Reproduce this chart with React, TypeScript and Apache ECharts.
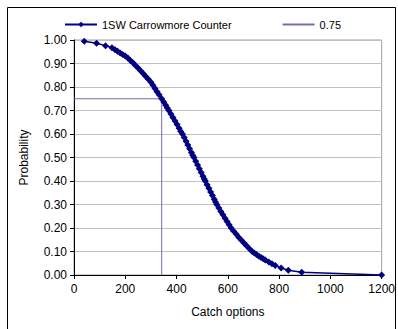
import React, { useEffect, useRef } from "react";
import * as echarts from "echarts";

const catchOptions = [
  40, 88, 123, 148, 160, 170, 180, 190, 200, 210, 220, 230, 240, 250, 260, 270, 280, 290, 300,
  308, 316, 324, 332, 342, 350, 358, 364, 370, 378, 386, 394, 402, 410, 416, 423,
  430, 437, 444, 451, 458, 463, 468, 475, 482, 489, 496, 503, 508, 512,
  519, 526, 533, 540, 547, 552, 557, 565, 573, 581, 589, 597, 605, 613,
  623, 633, 643, 653, 663, 673, 684, 695, 703, 712, 721, 730, 738, 746,
  760, 772, 785, 808, 836, 888, 1200,
];
const probability = [
  0.995, 0.986, 0.976, 0.967, 0.959, 0.952, 0.945, 0.938, 0.932, 0.923, 0.913, 0.903, 0.892, 0.881, 0.869, 0.857, 0.845, 0.833, 0.82,
  0.807, 0.794, 0.78, 0.767, 0.75, 0.736, 0.722, 0.711, 0.7, 0.685, 0.67, 0.655, 0.64, 0.625, 0.612, 0.6,
  0.585, 0.569, 0.553, 0.537, 0.521, 0.51, 0.5, 0.484, 0.468, 0.452, 0.436, 0.42, 0.409, 0.4,
  0.384, 0.369, 0.353, 0.338, 0.322, 0.311, 0.3, 0.285, 0.27, 0.256, 0.242, 0.228, 0.214, 0.2,
  0.186, 0.173, 0.16, 0.148, 0.136, 0.124, 0.112, 0.1, 0.094, 0.087, 0.08, 0.074, 0.069, 0.064,
  0.055, 0.048, 0.04, 0.03, 0.02, 0.012, 0.0,
];
const refX = [0, 342, 342];
const refY = [0.75, 0.75, 0];
const seriesNames = ["1SW Carrowmore Counter", "0.75"];

const FONT = "Liberation Sans, Arial, sans-serif";

export default function App() {
  const ref = useRef<HTMLDivElement>(null);
  useEffect(() => {
    if (!ref.current) return;
    const chart = echarts.init(ref.current, undefined, { renderer: "svg" });
    chart.setOption({
      animation: false,
      backgroundColor: "#ffffff",
      textStyle: { fontFamily: FONT },
      graphic: [
        {
          type: "rect",
          shape: { x: 7.5, y: 7.5, width: 388, height: 340 },
          style: { fill: "none", stroke: "#000000", lineWidth: 1 },
          silent: true,
        },
      ],
      legend: {
        top: 14,
        left: 59,
        itemWidth: 32,
        itemHeight: 7,
        itemGap: 50,
        textStyle: { fontSize: 11, color: "#000", fontFamily: FONT },
        data: [
          { name: seriesNames[0] },
          { name: seriesNames[1], itemStyle: { opacity: 0 } },
        ],
      },
      grid: {
        left: 74,
        top: 40,
        right: 14,
        bottom: 54,
        show: true,
        borderColor: "#a0a0a0",
        borderWidth: 1,
      },
      xAxis: {
        type: "value",
        min: 0,
        max: 1200,
        interval: 200,
        name: "Catch options",
        nameLocation: "middle",
        nameGap: 31,
        nameTextStyle: { fontSize: 12, color: "#000", fontFamily: FONT },
        axisLine: { show: true, lineStyle: { color: "#000", width: 1 } },
        axisTick: { show: true, length: 4, lineStyle: { color: "#000" } },
        axisLabel: {
          fontSize: 12,
          color: "#000",
          margin: 8,
          fontFamily: FONT,
          formatter: (v: number) => String(v),
        },
        splitLine: { show: false },
      },
      yAxis: {
        type: "value",
        min: 0,
        max: 1,
        interval: 0.1,
        name: "Probability",
        nameLocation: "middle",
        nameGap: 44,
        nameTextStyle: { fontSize: 12, color: "#000", fontFamily: FONT },
        axisLine: { show: true, lineStyle: { color: "#000", width: 1 } },
        axisTick: { show: true, length: 4, lineStyle: { color: "#000" } },
        axisLabel: {
          fontSize: 12,
          color: "#000",
          margin: 7,
          fontFamily: FONT,
          formatter: (v: number) => v.toFixed(2),
        },
        splitLine: { show: true, lineStyle: { color: "#c0c0c0", width: 1 } },
      },
      series: [
        {
          name: seriesNames[0],
          type: "line",
          data: catchOptions.map((x, i) => [x, probability[i]]),
          symbol: "diamond",
          symbolSize: 7,
          showAllSymbol: true,
          itemStyle: { color: "#000080" },
          lineStyle: { color: "#000080", width: 1.5 },
          z: 3,
        },
        {
          name: seriesNames[1],
          type: "line",
          data: refX.map((x, i) => [x, refY[i]]),
          symbol: "none",
          itemStyle: { color: "#7070b0" },
          lineStyle: { color: "#7070b0", width: 1 },
          z: 2,
        },
      ],
    });
    return () => chart.dispose();
  }, []);
  return (
    <div
      ref={ref}
      style={{ position: "fixed", left: 0, top: 0, width: 398, height: 329 }}
    />
  );
}
